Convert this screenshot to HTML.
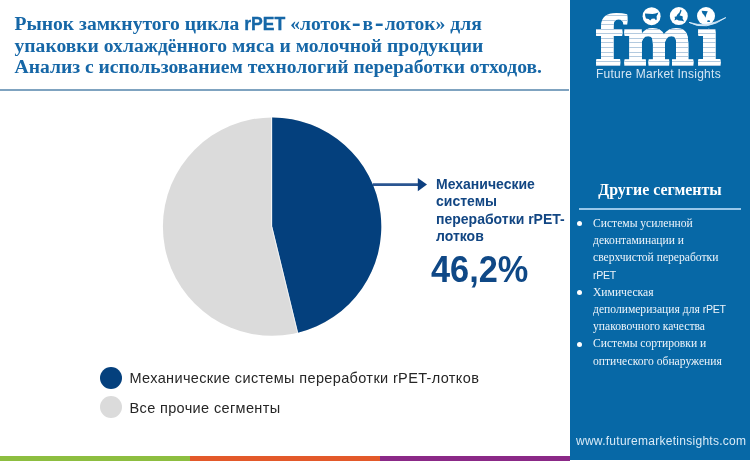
<!DOCTYPE html>
<html><head><meta charset="utf-8">
<style>
*{margin:0;padding:0;box-sizing:border-box}
html,body{width:750px;height:461px;overflow:hidden;background:#fff}
body{position:relative;font-family:"Liberation Sans",sans-serif}
.title{position:absolute;left:14.5px;top:12.5px;font-family:"Liberation Serif",serif;font-weight:bold;font-size:19.6px;line-height:21.3px;color:#1667a7;white-space:nowrap}
.title .s{font-family:"Liberation Sans",sans-serif;font-size:17.6px;-webkit-text-stroke:0.35px #1667a7}
.title .h{display:inline-block;width:11.5px;text-align:center;font-family:"Liberation Sans",sans-serif;font-size:20px;line-height:10px;position:relative;top:0.2px}
.title .h b{display:inline-block;transform:scale(1.35,1)}
.hr{position:absolute;left:0;top:89px;width:568.5px;height:2px;background:#7fa3c0}
.panel{position:absolute;left:570px;top:0;width:180px;height:459.5px;background:#0768a6}
.bar{position:absolute;top:456px;height:5px}
svg.pie{position:absolute;left:0;top:0}
.lbl{position:absolute;left:436px;top:175.6px;font-weight:bold;font-size:14px;line-height:17.6px;color:#124683;white-space:nowrap}
.pct{position:absolute;left:431px;top:250px;font-weight:bold;font-size:36px;line-height:40px;color:#0f4886;transform:scaleX(0.953);transform-origin:0 0;white-space:nowrap}
.leg{position:absolute;left:100px;font-size:14.5px;letter-spacing:0.36px;line-height:22px;color:#262626;white-space:nowrap}
.leg i{position:absolute;left:0;top:0;width:22px;height:22px;border-radius:50%}
.leg span{position:absolute;left:29.5px;top:0.5px}
.ph{position:absolute;left:570px;width:180px;top:180px;text-align:center;font-family:"Liberation Serif",serif;font-weight:bold;font-size:15.9px;color:#fff;line-height:20px}
.phr{position:absolute;left:579px;top:207.6px;width:161.5px;height:2.6px;background:#98c7ea}
.blist{position:absolute;left:593px;top:215px;font-family:"Liberation Serif",serif;font-size:11.6px;line-height:17.2px;color:#eef4fa;white-space:nowrap}
.blist .b{position:relative}
.blist .b:before{content:"";position:absolute;left:-16px;top:6.2px;width:5px;height:5px;border-radius:50%;background:#fff}
.blist .s{font-family:"Liberation Sans",sans-serif;font-size:10.6px;letter-spacing:-0.3px}
.web{position:absolute;left:576px;top:434px;font-size:12px;letter-spacing:0.27px;color:#d8eaf7;white-space:nowrap}
.fmitext{position:absolute;left:596px;top:67px;font-size:12px;letter-spacing:0.25px;color:#d5e6f4;white-space:nowrap}
.logo{position:absolute;left:594px;top:0px;font-family:"DejaVu Serif",serif;font-weight:bold;font-size:65px;line-height:80px;transform:scaleX(1.055);transform-origin:0 0;white-space:nowrap;color:#fff;text-shadow:0 1px 0 #fff,0 2px 0 #fff,0 3px 0 #fff}
.stripes{position:absolute;left:594px;top:7.4px;width:134px;height:60px;background:repeating-linear-gradient(to bottom,transparent 0,transparent 3.55px,#b3cadf 3.55px,#b3cadf 4.55px);mix-blend-mode:darken}
svg.globes{position:absolute;left:570px;top:0}
.logo .ii{display:inline-block;clip-path:inset(28.3px 0 0 0)}
</style></head><body>
<div class="title"><span id="t1">Рынок замкнутого цикла <span class="s">rPET</span> «лоток<span class="h"><b>‑</b></span>в<span class="h"><b>‑</b></span>лоток» для</span><br><span id="t2">упаковки охлаждённого мяса и молочной продукции</span><br><span id="t3">Анализ с использованием технологий переработки отходов.</span></div>
<div class="hr"></div>

<svg class="pie" width="750" height="461" viewBox="0 0 750 461">
  <circle cx="272.1" cy="226.6" r="109.2" fill="#dbdbdb"/>
  <path d="M272.1 226.6 L272.1 117.4 A109.2 109.2 0 0 1 297.93 332.7 Z" fill="#04407d"/>
  <line x1="271.6" y1="226.6" x2="271.6" y2="116.8" stroke="#fff" stroke-width="0.8"/>
  <line x1="271.8" y1="226.6" x2="297.8" y2="333.2" stroke="#fff" stroke-width="0.8"/>
  <line x1="373" y1="184.6" x2="419" y2="184.6" stroke="#2a5591" stroke-width="2.6"/>
  <path d="M417.8 178 L427 184.6 L417.8 191.2 Z" fill="#0d3f80"/>
</svg>

<div class="lbl" id="lbl">Механические<br>системы<br>переработки rPET-<br>лотков</div>
<div class="pct" id="pct">46,2%</div>

<div class="leg" style="top:366.5px"><i style="background:#04407d"></i><span id="lg1">Механические системы переработки rPET-лотков</span></div>
<div class="leg" style="top:396px"><i style="background:#dbdbdb"></i><span id="lg2">Все прочие сегменты</span></div>

<div class="bar" style="left:0;width:190px;background:#8dbe40"></div>
<div class="bar" style="left:190px;width:190px;background:#e3592a"></div>
<div class="bar" style="left:380px;width:190px;background:#8b2987"></div>
<div class="panel"></div>

<div class="logo" id="logo"><span style="letter-spacing:-1.3px">f</span><span style="letter-spacing:1.3px">m</span><span class="ii">i</span></div><div class="stripes"></div>
<svg class="globes" width="180" height="40" viewBox="570 0 180 40">
  <circle cx="651.6" cy="16.2" r="9" fill="#fff"/>
  <circle cx="678.8" cy="16.1" r="9" fill="#fff"/>
  <circle cx="706" cy="16" r="9" fill="#fff"/>
  <path d="M645 13.6 L652.5 13.9 L655.5 13.4 L658.4 12.4 L657.6 14.6 L656.6 16.2 L656.8 19.2 L656 20.3 L654.4 18.6 L651.8 18.8 L650.2 20.6 L648.6 19 L646 18.4 L645.2 16 Z" fill="#0768a6"/>
  <path d="M680.6 9.6 L679.4 12.4 L677.2 14.8 L676.4 16.6 L674.6 16.8 L675 18.8 L674.4 20.6 L676.8 19.4 L678.6 20.4 L681.8 20.8 L684.2 21.4 L682.6 18.8 L682.8 16.6 L681 15.8 L679.6 15.4 L680.6 13.2 L681.6 10.6 Z" fill="#0768a6"/>
  <path d="M701.6 10.8 L707.8 11.2 L706.4 14.2 L705.4 17.8 L704.4 15.4 L702.4 13.2 Z" fill="#0768a6"/>
  <ellipse cx="708.6" cy="21.2" rx="1.5" ry="0.9" fill="#0768a6"/>
  <path d="M689 22.4 Q706 31.5 725.8 17.6 Q706 28.4 689 22.4 Z" fill="#d2e8f8" stroke="#d2e8f8" stroke-width="0.9"/>
</svg>
<div class="fmitext" id="fmt">Future Market Insights</div>
<div class="ph" id="ph">Другие сегменты</div>
<div class="phr"></div>
<div class="blist" id="bl">
<div class="b">Системы усиленной</div>
<div>деконтаминации и</div>
<div>сверхчистой переработки</div>
<div><span class="s">rPET</span></div>
<div class="b">Химическая</div>
<div>деполимеризация для <span class="s">rPET</span></div>
<div>упаковочного качества</div>
<div class="b">Системы сортировки и</div>
<div>оптического обнаружения</div>
</div>
<div class="web" id="web">www.futuremarketinsights.com</div>
</body></html>
